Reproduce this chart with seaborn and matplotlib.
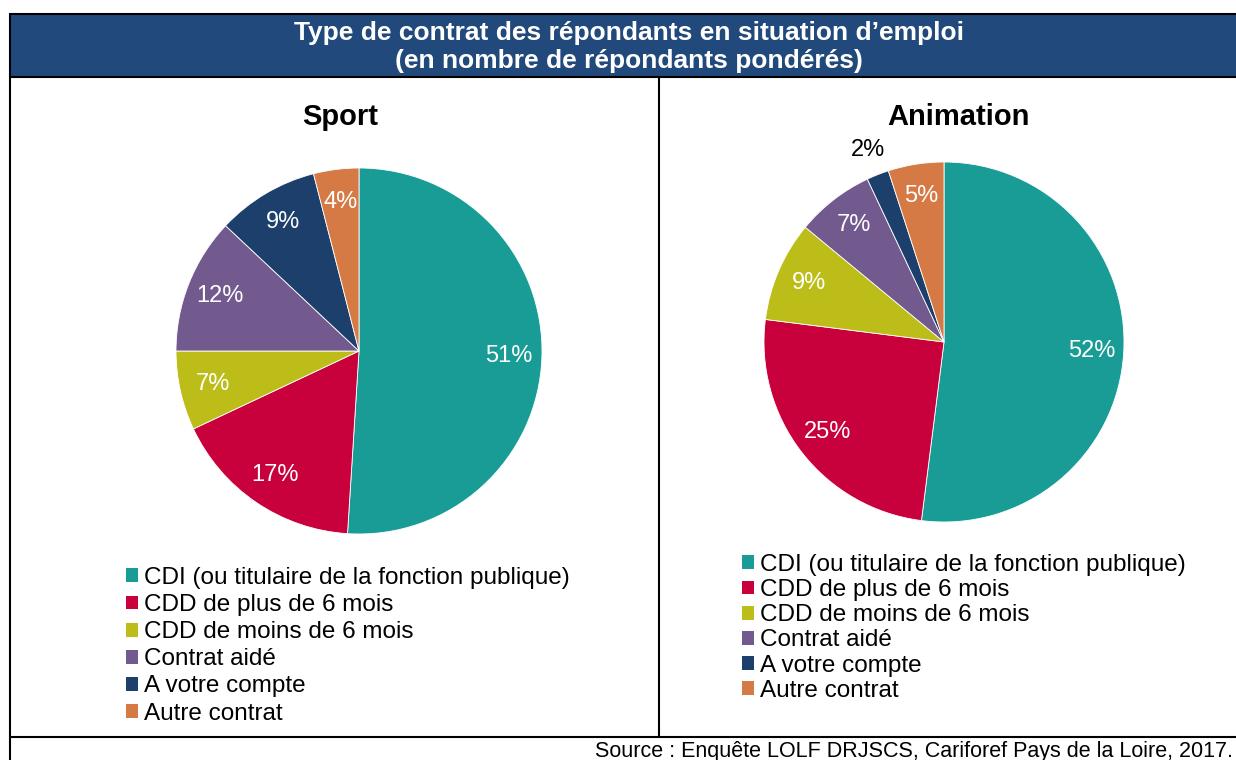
import matplotlib
matplotlib.use("Agg")
import matplotlib.pyplot as plt
import seaborn as sns
from matplotlib.patches import Rectangle, Patch
from matplotlib.lines import Line2D

# Données
categories = ["CDI (ou titulaire de la fonction publique)", "CDD de plus de 6 mois",
              "CDD de moins de 6 mois", "Contrat aidé", "A votre compte", "Autre contrat"]
sport_vals = [51, 17, 7, 12, 9, 4]
animation_vals = [52, 25, 9, 7, 2, 5]
colors = ["#1A9C96", "#C8003C", "#BDBD1A", "#725A8E", "#1D3F6B", "#D57A45"]

sns.set_theme(style="white")
plt.rcParams['font.family'] = ['Liberation Sans', 'DejaVu Sans']
plt.rcParams['text.color'] = 'black'

W, H = 1236, 760
fig = plt.figure(figsize=(W / 100, H / 100), dpi=100)

def fx(px):
    return px / W

def fy(py):
    return 1 - py / H

# Bandeau de titre
fig.patches.append(Rectangle((fx(10), fy(77)), fx(1236) - fx(10), fy(14) - fy(77),
                             transform=fig.transFigure, facecolor="#21497C",
                             edgecolor="none", zorder=0))
fig.text(fx(629), fy(33), "Type de contrat des répondants en situation d\u2019emploi",
         ha="center", va="center", color="white", fontsize=19, fontweight="bold")
fig.text(fx(629), fy(61), "(en nombre de répondants pondérés)",
         ha="center", va="center", color="white", fontsize=19, fontweight="bold")

# Cadres
for (x0, y0, x1, y1) in [(10, 14, 1236, 14), (10, 77, 1236, 77), (10, 14, 10, 760),
                         (659, 77, 659, 737), (10, 737, 1236, 737)]:
    fig.add_artist(Line2D([fx(x0), fx(x1)], [fy(y0), fy(y1)], color="black",
                          lw=1.5, transform=fig.transFigure))


def draw_pie(cx, cy, r, vals, title, title_x, leg_x, leg_y, spacing):
    ax = fig.add_axes([fx(cx - r), fy(cy + r), fx(2 * r), (2 * r) / H])
    wedges, texts, autotexts = ax.pie(
        vals, colors=colors, startangle=90, counterclock=False,
        autopct="%d%%", pctdistance=0.82,
        wedgeprops={"linewidth": 0.6, "edgecolor": "white"},
        textprops={"color": "white", "fontsize": 17})
    for v, t in zip(vals, autotexts):
        if v <= 2:
            x, y = t.get_position()
            t.set_position((x * 1.4, y * 1.4))
            t.set_color("black")
    ax.set_xlim(-1, 1)
    ax.set_ylim(-1, 1)
    ax.set_aspect("equal")
    ax.axis("off")
    fig.text(fx(title_x), fy(117), title, ha="center", va="center",
             fontsize=21, fontweight="bold", color="black")
    handles = [Patch(facecolor=c, edgecolor="none") for c in colors]
    leg = fig.legend(handles, categories, loc="upper left",
                     bbox_to_anchor=(fx(leg_x), fy(leg_y)), frameon=False,
                     fontsize=17.5, handlelength=0.5, handleheight=0.5,
                     handletextpad=0.25, labelspacing=spacing, borderaxespad=0,
                     borderpad=0)
    for t in leg.get_texts():
        t.set_color("black")


draw_pie(359, 351, 183, sport_vals, "Sport", 340, 126, 567, 0.21)
draw_pie(944, 342, 180, animation_vals, "Animation", 958, 742, 554, 0.13)

fig.text(fx(1233), fy(751), "Source : Enquête LOLF DRJSCS, Cariforef Pays de la Loire, 2017.",
         ha="right", va="center", fontsize=15.5, color="black")

fig.savefig("out.png", dpi=100)
